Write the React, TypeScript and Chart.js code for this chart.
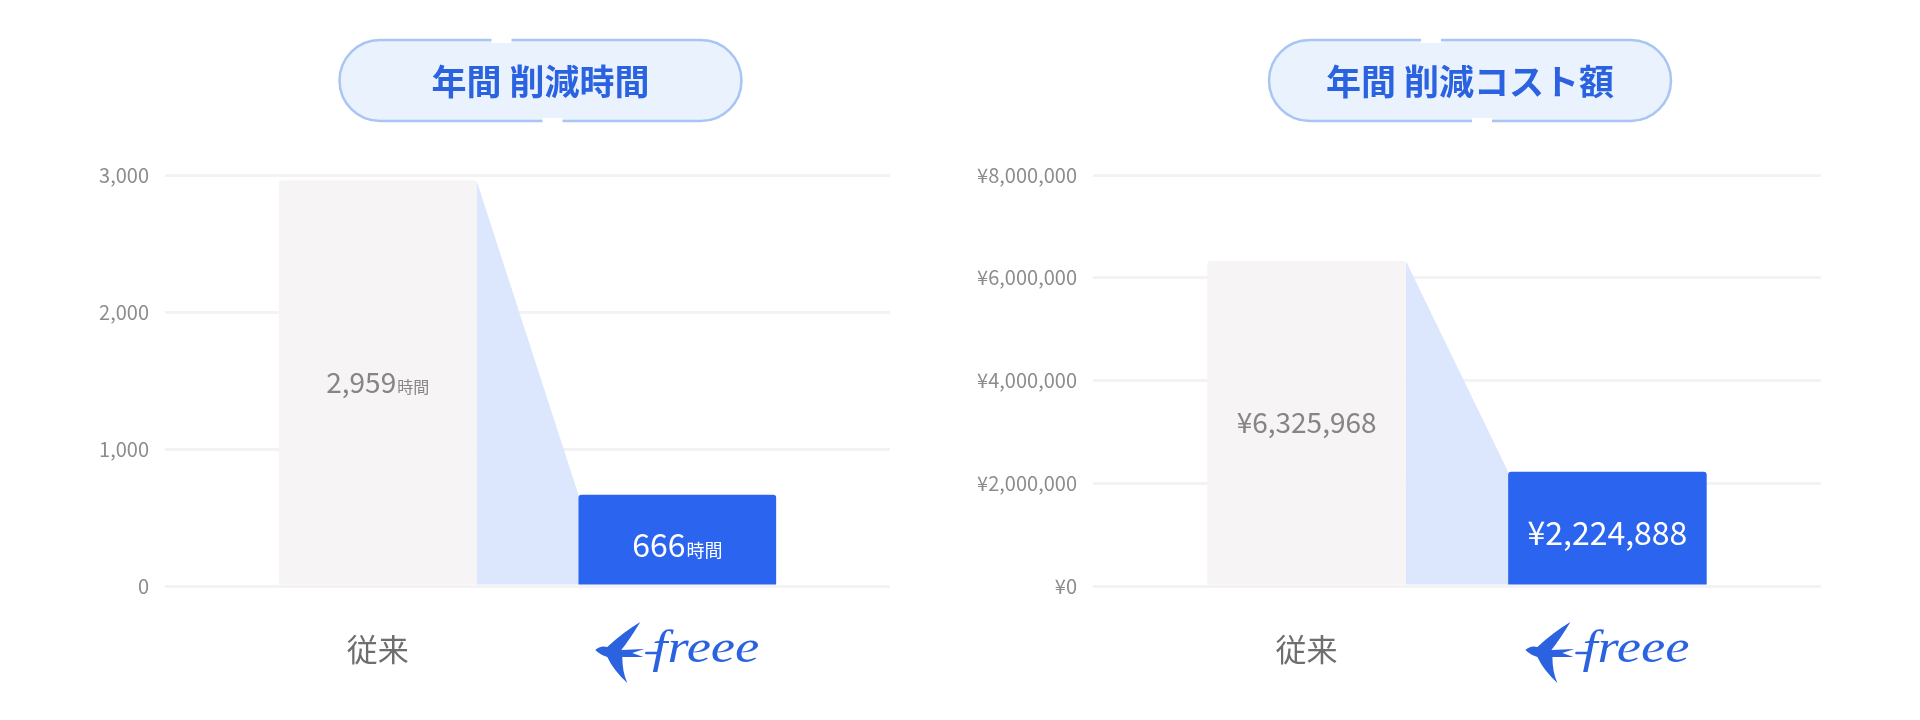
import React, { useEffect, useRef } from 'react';
import { Chart, registerables } from 'chart.js';

Chart.register(...registerables);

const FONT = '"Noto Sans CJK JP", "Noto Sans", sans-serif';
Chart.defaults.font.family = FONT;

// data
const categories = ['従来', 'freee'];
const hoursValues = [2959, 666];
const costValues = [6325968, 2224888];
const hoursTicks = [0, 1000, 2000, 3000];
const costTicks = [0, 2000000, 4000000, 6000000, 8000000];

const barColors = ['#f6f4f5', '#2a64ef'];
const labelColors = ['#858585', '#ffffff'];
const labelSizes = [28, 32];
const BLUE = '#2a62e0';

const fmt = (v) => Number(v).toLocaleString('en-US');

const drawBird = (ctx, ox, oy) => {
  ctx.save();
  ctx.translate(ox, oy);
  ctx.fillStyle = BLUE;
  ctx.beginPath();
  ctx.moveTo(0, 28);
  ctx.quadraticCurveTo(5, 23, 12, 25);
  ctx.quadraticCurveTo(28, 10, 45, 0);
  ctx.quadraticCurveTo(34, 18, 26, 28);
  ctx.lineTo(49, 27);
  ctx.lineTo(37, 31);
  ctx.lineTo(48, 35);
  ctx.lineTo(27, 35);
  ctx.quadraticCurveTo(27, 50, 32, 61);
  ctx.quadraticCurveTo(18, 48, 12, 35);
  ctx.quadraticCurveTo(5, 33, 0, 28);
  ctx.closePath();
  ctx.fill();
  // dash into the f
  ctx.strokeStyle = BLUE;
  ctx.lineWidth = 2.5;
  ctx.lineCap = 'round';
  ctx.beginPath();
  ctx.moveTo(51, 31);
  ctx.lineTo(64, 31);
  ctx.stroke();
  // wordmark
  ctx.font = `italic 400 46px "Liberation Serif", serif`;
  ctx.textAlign = 'left';
  ctx.textBaseline = 'alphabetic';
  const w = ctx.measureText('freee').width;
  ctx.translate(57, 40);
  ctx.scale(107 / w, 1);
  ctx.fillText('freee', 0, 0);
  ctx.restore();
};

const SavingsChart = ({ title, values, ticks, tickFmt, valueFmt, unit, axisWidth, padRight }) => {
  const chartRef = useRef(null);
  const chartInstance = useRef(null);

  useEffect(() => {
    if (chartInstance.current) {
      chartInstance.current.destroy();
    }
    const ctx = chartRef.current.getContext('2d');

    const decor = {
      id: 'decor',
      beforeDraw(chart) {
        const { ctx, chartArea } = chart;
        const cx = (chartArea.left + chartArea.right) / 2 + 13;
        const w = 402;
        const h = 81;
        const left = cx - w / 2;
        const top = 40;
        ctx.save();
        ctx.beginPath();
        ctx.roundRect(left, top, w, h, h / 2);
        ctx.fillStyle = '#eaf2fe';
        ctx.fill();
        ctx.lineWidth = 2.5;
        ctx.strokeStyle = '#a8c5f4';
        ctx.stroke();
        // small notches in the outline
        ctx.fillStyle = '#ffffff';
        ctx.fillRect(left + 152, top - 3, 20, 6);
        ctx.fillRect(left + 203, top + h - 3, 20, 6);
        ctx.fillStyle = BLUE;
        ctx.font = `700 35px ${FONT}`;
        ctx.textAlign = 'center';
        ctx.textBaseline = 'middle';
        ctx.fillText(title, cx, top + h / 2 + 1);
        ctx.restore();
      },
      beforeDatasetsDraw(chart) {
        const { ctx } = chart;
        const els = chart.getDatasetMeta(0).data;
        if (els.length < 2) return;
        const a = els[0].getProps(['x', 'y', 'base', 'width'], true);
        const b = els[1].getProps(['x', 'y', 'base', 'width'], true);
        ctx.save();
        ctx.fillStyle = '#dce7fd';
        ctx.beginPath();
        ctx.moveTo(a.x + a.width / 2, a.y);
        ctx.lineTo(b.x - b.width / 2, b.y);
        ctx.lineTo(b.x - b.width / 2, b.base);
        ctx.lineTo(a.x + a.width / 2, a.base);
        ctx.closePath();
        ctx.fill();
        ctx.restore();
      },
      afterDatasetsDraw(chart) {
        const { ctx } = chart;
        const els = chart.getDatasetMeta(0).data;
        ctx.save();
        ctx.textAlign = 'left';
        ctx.textBaseline = 'alphabetic';
        els.forEach((el, i) => {
          const { x, y, base } = el.getProps(['x', 'y', 'base'], true);
          const cy = (y + base) / 2;
          const main = valueFmt(values[i]);
          const big = labelSizes[i];
          const small = Math.round(big * 0.57);
          ctx.font = `400 ${big}px ${FONT}`;
          const w1 = ctx.measureText(main).width;
          let w2 = 0;
          if (unit) {
            ctx.font = `400 ${small}px ${FONT}`;
            w2 = ctx.measureText(unit).width + 1;
          }
          const sx = x - (w1 + w2) / 2;
          const by = cy + (i === 0 ? 10 : 17);
          ctx.fillStyle = labelColors[i];
          ctx.font = `400 ${big}px ${FONT}`;
          ctx.fillText(main, sx, by);
          if (unit) {
            ctx.font = `400 ${small}px ${FONT}`;
            ctx.fillText(unit, sx + w1 + 1, by);
          }
        });
        ctx.restore();
      },
      afterDraw(chart) {
        const xs = chart.scales.x;
        const i = categories.indexOf('freee');
        const px = xs.getPixelForValue(i + 1);
        drawBird(chart.ctx, px - 82, chart.chartArea.bottom + 36);
      },
    };

    chartInstance.current = new Chart(ctx, {
      type: 'bar',
      data: {
        datasets: [
          {
            data: values.map((v, i) => ({ x: i + 1, y: v })),
            backgroundColor: barColors,
            borderRadius: 3,
            borderSkipped: 'bottom',
            barPercentage: 0.66,
            categoryPercentage: 1,
          },
        ],
      },
      options: {
        animation: false,
        responsive: true,
        maintainAspectRatio: false,
        events: [],
        layout: { padding: { top: 175, right: padRight, bottom: 0, left: 0 } },
        plugins: {
          legend: { display: false },
          tooltip: { enabled: false },
        },
        scales: {
          x: {
            type: 'linear',
            min: 0.29,
            max: 2.71,
            offset: false,
            grid: { display: false, drawTicks: false, offset: false },
            border: { display: false },
            afterBuildTicks: (s) => {
              s.ticks = categories.map((_, i) => ({ value: i + 1 }));
            },
            afterFit: (s) => {
              s.height = 134;
            },
            ticks: {
              autoSkip: false,
              maxRotation: 0,
              padding: 45,
              color: '#6e6e6e',
              font: { size: 31 },
              callback: (v) => {
                const c = categories[Math.round(v) - 1];
                return c === 'freee' ? '' : c;
              },
            },
          },
          y: {
            min: ticks[0],
            max: ticks[ticks.length - 1],
            grid: { color: '#f3f3f5', lineWidth: 3, drawTicks: false },
            border: { display: false },
            afterBuildTicks: (s) => {
              s.ticks = ticks.map((v) => ({ value: v }));
            },
            afterFit: (s) => {
              s.width = axisWidth;
            },
            ticks: {
              padding: 16,
              color: '#8c8c8c',
              font: { size: 20 },
              callback: (v) => tickFmt(v),
            },
          },
        },
      },
      plugins: [decor],
    });

    return () => {
      if (chartInstance.current) {
        chartInstance.current.destroy();
        chartInstance.current = null;
      }
    };
  }, []);

  return (
    <div style={{ position: 'relative', width: 960, height: 720 }}>
      <canvas ref={chartRef}></canvas>
    </div>
  );
};

const App = () => {
  useEffect(() => {
    document.body.style.margin = '0';
    document.body.style.background = '#ffffff';
  }, []);

  return (
    <div style={{ display: 'flex', width: 1920, height: 720, background: '#ffffff' }}>
      <SavingsChart
        title="年間 削減時間"
        values={hoursValues}
        ticks={hoursTicks}
        tickFmt={(v) => fmt(v)}
        valueFmt={(v) => fmt(v)}
        unit="時間"
        axisWidth={165}
        padRight={70}
      />
      <SavingsChart
        title="年間 削減コスト額"
        values={costValues}
        ticks={costTicks}
        tickFmt={(v) => '¥' + fmt(v)}
        valueFmt={(v) => '¥' + fmt(v)}
        unit=""
        axisWidth={133}
        padRight={99}
      />
    </div>
  );
};

export default App;
